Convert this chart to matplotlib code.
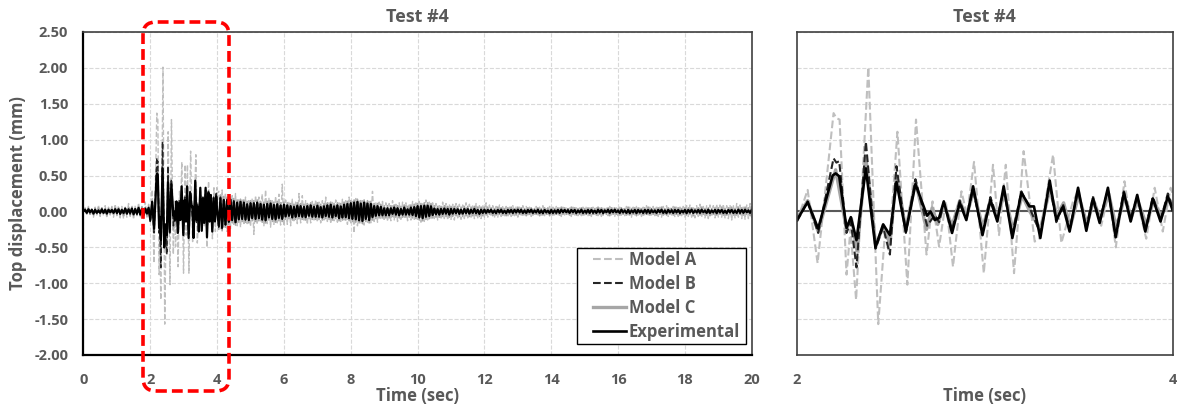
import numpy as np
import matplotlib
matplotlib.use("Agg")
import matplotlib.pyplot as plt
from matplotlib.patches import FancyBboxPatch, Rectangle
from matplotlib.ticker import FormatStrFormatter

plt.rcParams['font.family'] = ['Open Sans', 'DejaVu Sans']
plt.rcParams['axes.unicode_minus'] = False

# ---- data (mm) ----
# 2-4 s window, peaks / troughs of each trace
t_exp = [2.000, 2.057, 2.113, 2.190, 2.206, 2.225, 2.264, 2.287, 2.317, 2.367, 2.418, 2.459,
         2.495, 2.530, 2.580, 2.631, 2.693, 2.711, 2.734, 2.757, 2.782, 2.826, 2.867, 2.902,
         2.938, 2.988, 3.030, 3.067, 3.101, 3.147, 3.195, 3.239, 3.262, 3.296, 3.346, 3.381,
         3.417, 3.452, 3.497, 3.541, 3.576, 3.612, 3.656, 3.697, 3.741, 3.777, 3.812, 3.855,
         3.895, 3.936, 3.975, 4.000]
v_exp = [-0.12, 0.13, -0.24, 0.50, 0.53, 0.49, -0.23, -0.08, -0.40, 0.60, -0.50, -0.18,
         -0.33, 0.41, -0.28, 0.38, -0.06, 0.00, -0.12, -0.09, 0.14, -0.30, 0.12, -0.12,
         0.35, -0.33, 0.16, -0.14, 0.35, -0.37, 0.26, 0.07, 0.07, -0.37, 0.43, -0.12,
         0.07, -0.28, 0.33, -0.27, 0.18, -0.16, 0.33, -0.36, 0.26, -0.14, 0.23, -0.28,
         0.18, -0.14, 0.21, 0.02]

t_a = [2.000, 2.057, 2.110, 2.195, 2.210, 2.227, 2.264, 2.285, 2.315, 2.380, 2.433, 2.470,
       2.490, 2.535, 2.588, 2.634, 2.690, 2.722, 2.757, 2.793, 2.831, 2.876, 2.905, 2.943,
       2.995, 3.044, 3.076, 3.112, 3.156, 3.207, 3.266, 3.290, 3.364, 3.408, 3.470, 3.500,
       3.540, 3.580, 3.620, 3.660, 3.698, 3.744, 3.777, 3.812, 3.860, 3.905, 3.948, 3.990,
       4.000]
v_a = [-0.14, 0.30, -0.72, 1.37, 1.30, 1.28, -0.88, -0.25, -1.23, 2.01, -1.57, -0.25,
       -0.55, 1.11, -1.02, 1.28, -0.60, 0.14, -0.49, 0.14, -0.77, 0.28, -0.05, 0.69,
       -0.86, 0.65, -0.33, 0.65, -0.86, 0.84, -0.42, -0.38, 0.79, -0.44, 0.14, 0.30,
       -0.25, 0.20, -0.20, 0.25, -0.50, 0.42, -0.15, 0.15, -0.38, 0.33, -0.28, 0.33,
       0.25]

t_b = [2.000, 2.057, 2.113, 2.195, 2.210, 2.225, 2.264, 2.287, 2.317, 2.367, 2.418, 2.459,
       2.495, 2.530, 2.580, 2.631, 2.693, 2.734, 2.757, 2.782, 2.826, 2.867, 2.902, 2.938,
       2.988, 3.030, 3.067, 3.101, 3.147, 3.195, 3.239, 3.296, 3.346, 3.381, 3.417, 3.452,
       3.497, 3.541, 3.576, 3.612, 3.656, 3.697, 3.741, 3.777, 3.812, 3.855, 3.895, 3.936,
       3.975, 4.000]
v_b = [-0.14, 0.14, -0.30, 0.74, 0.68, 0.70, -0.30, -0.15, -0.78, 0.97, -0.52, -0.22,
       -0.60, 0.63, -0.30, 0.45, -0.20, -0.05, -0.15, 0.12, -0.25, 0.15, -0.10, 0.30,
       -0.30, 0.20, -0.10, 0.30, -0.32, 0.28, 0.05, -0.30, 0.38, -0.15, 0.10, -0.25,
       0.28, -0.22, 0.20, -0.12, 0.30, -0.33, 0.28, -0.10, 0.20, -0.25, 0.20, -0.12,
       0.25, 0.05]

t_c = [2.000, 2.057, 2.113, 2.206, 2.264, 2.290, 2.320, 2.367, 2.420, 2.460, 2.495, 2.530,
       2.580, 2.631, 2.690, 2.720, 2.750, 2.782, 2.826, 2.867, 2.902, 2.940, 2.990, 3.030,
       3.067, 3.105, 3.150, 3.200, 3.240, 3.296, 3.346, 3.385, 3.420, 3.455, 3.500, 3.545,
       3.580, 3.615, 3.660, 3.700, 3.745, 3.780, 3.815, 3.860, 3.900, 3.940, 3.980, 4.000]
v_c = [-0.10, 0.15, -0.28, 0.58, -0.25, -0.10, -0.55, 0.75, -0.48, -0.20, -0.45, 0.50,
       -0.25, 0.42, -0.25, 0.05, -0.18, 0.10, -0.20, 0.15, -0.08, 0.28, -0.22, 0.15,
       -0.08, 0.25, -0.25, 0.22, 0.00, -0.25, 0.30, -0.05, 0.12, -0.22, 0.22, -0.18,
       0.15, -0.10, 0.25, -0.22, 0.20, -0.08, 0.15, -0.18, 0.15, -0.08, 0.18, 0.10]

# rest of the record, one value every 0.05 s (0.00-1.95 s and 4.05-20.00 s), one row per second
pre_exp = [
    0.00, 0.02, -0.02, 0.03, -0.01, 0.02, -0.03, 0.02, -0.02, 0.01, -0.02, 0.03, -0.02, 0.02, -0.03, 0.02, -0.01, 0.02, -0.02, 0.03,
    -0.02, 0.03, -0.03, 0.02, -0.02, 0.04, -0.03, 0.03, -0.02, 0.04, -0.04, 0.03, -0.03, 0.05, -0.04, 0.03, -0.05, 0.04, -0.03, 0.05]
pre_a = [
    0.00, 0.05, -0.04, 0.07, -0.06, 0.04, -0.08, 0.06, -0.05, 0.09, -0.07, 0.05, -0.06, 0.08, -0.09, 0.06, -0.05, 0.07, -0.08, 0.10,
    -0.06, 0.08, -0.09, 0.07, -0.10, 0.06, -0.08, 0.11, -0.07, 0.09, -0.11, 0.08, -0.06, 0.12, -0.09, 0.07, -0.10, 0.13, -0.08, 0.10]
pre_b = [
    0.00, 0.03, -0.02, 0.02, -0.03, 0.03, -0.02, 0.03, -0.03, 0.02, -0.03, 0.02, -0.03, 0.03, -0.02, 0.03, -0.03, 0.02, -0.03, 0.03,
    -0.03, 0.02, -0.04, 0.03, -0.03, 0.04, -0.03, 0.02, -0.04, 0.03, -0.03, 0.04, -0.04, 0.03, -0.05, 0.04, -0.03, 0.05, -0.04, 0.04]
pre_c = [
    0.00, 0.04, -0.03, 0.05, -0.04, 0.03, -0.05, 0.04, -0.03, 0.05, -0.04, 0.05, -0.03, 0.04, -0.05, 0.04, -0.03, 0.05, -0.04, 0.05,
    -0.04, 0.05, -0.05, 0.04, -0.06, 0.05, -0.04, 0.06, -0.05, 0.05, -0.06, 0.04, -0.05, 0.07, -0.05, 0.06, -0.07, 0.05, -0.06, 0.07]

post_exp = [
    -0.20, 0.18, -0.22, 0.16, -0.18, 0.15, -0.14, 0.16, -0.12, 0.13, -0.15, 0.12, -0.11, 0.13, -0.10, 0.12, -0.11, 0.10, -0.12, 0.11,
    -0.09, 0.11, -0.10, 0.12, -0.09, 0.10, -0.11, 0.09, -0.12, 0.10, -0.08, 0.11, -0.10, 0.09, -0.11, 0.10, -0.09, 0.08, -0.10, 0.09,
    -0.07, 0.08, -0.06, 0.07, -0.08, 0.06, -0.07, 0.08, -0.06, 0.07, -0.07, 0.06, -0.08, 0.07, -0.06, 0.08, -0.07, 0.06, -0.07, 0.08,
    -0.07, 0.06, -0.08, 0.07, -0.06, 0.08, -0.07, 0.09, -0.08, 0.07, -0.06, 0.08, -0.09, 0.07, -0.08, 0.09, -0.08, 0.10, -0.09, 0.11,
    -0.10, 0.12, -0.11, 0.13, -0.12, 0.11, -0.13, 0.12, -0.10, 0.11, -0.12, 0.10, -0.08, 0.07, -0.06, 0.07, -0.05, 0.06, -0.05, 0.04,
    -0.05, 0.04, -0.05, 0.04, -0.03, 0.05, -0.04, 0.04, -0.05, 0.03, -0.04, 0.05, -0.04, 0.03, -0.04, 0.05, -0.05, 0.06, -0.06, 0.07,
    -0.08, 0.07, -0.09, 0.08, -0.07, 0.08, -0.06, 0.07, -0.05, 0.04, -0.04, 0.03, -0.04, 0.03, -0.03, 0.04, -0.03, 0.03, -0.04, 0.03,
    -0.03, 0.03, -0.02, 0.03, -0.03, 0.02, -0.03, 0.03, -0.02, 0.03, -0.03, 0.02, -0.02, 0.03, -0.02, 0.02, -0.03, 0.02, -0.02, 0.02,
    -0.02, 0.02, -0.01, 0.02, -0.02, 0.01, -0.02, 0.02, -0.01, 0.02, -0.02, 0.01, -0.02, 0.02, -0.01, 0.02, -0.02, 0.02, -0.01, 0.02,
    -0.01, 0.02, -0.02, 0.01, -0.02, 0.02, -0.01, 0.02, -0.02, 0.01, -0.01, 0.02, -0.02, 0.01, -0.02, 0.02, -0.01, 0.01, -0.02, 0.02,
    -0.02, 0.01, -0.01, 0.02, -0.02, 0.02, -0.01, 0.02, -0.01, 0.01, -0.02, 0.02, -0.01, 0.02, -0.02, 0.01, -0.01, 0.02, -0.02, 0.01,
    -0.01, 0.02, -0.02, 0.02, -0.01, 0.01, -0.02, 0.02, -0.01, 0.02, -0.02, 0.01, -0.01, 0.02, -0.02, 0.02, -0.01, 0.02, -0.01, 0.01,
    -0.02, 0.02, -0.01, 0.01, -0.02, 0.02, -0.02, 0.01, -0.01, 0.02, -0.02, 0.02, -0.01, 0.01, -0.02, 0.02, -0.01, 0.02, -0.02, 0.01,
    -0.01, 0.01, -0.02, 0.02, -0.01, 0.02, -0.02, 0.01, -0.02, 0.02, -0.01, 0.01, -0.02, 0.02, -0.01, 0.02, -0.02, 0.01, -0.01, 0.02,
    -0.02, 0.02, -0.01, 0.02, -0.02, 0.01, -0.01, 0.02, -0.02, 0.02, -0.01, 0.01, -0.02, 0.02, -0.02, 0.01, -0.01, 0.02, -0.02, 0.02,
    -0.01, 0.02, -0.02, 0.01, -0.02, 0.02, -0.01, 0.02, -0.02, 0.01, -0.02, 0.02, -0.01, 0.02, -0.02, 0.02, -0.01, 0.01, -0.02, 0.02]
post_a = [
    0.28, -0.25, 0.30, -0.22, 0.26, -0.28, 0.20, -0.24, 0.22, -0.18, 0.25, -0.20, 0.18, -0.22, 0.16, -0.19, 0.20, -0.17, 0.15, -0.21,
    0.18, -0.32, 0.22, -0.18, 0.20, -0.15, 0.24, -0.20, 0.30, -0.17, 0.19, -0.22, 0.16, -0.18, 0.21, -0.16, 0.24, -0.19, 0.38, -0.20,
    0.16, -0.18, 0.14, -0.20, 0.17, -0.15, 0.13, -0.17, 0.25, -0.16, 0.22, -0.14, 0.15, -0.18, 0.12, -0.16, 0.14, -0.12, 0.16, -0.15,
    0.13, -0.16, 0.15, -0.12, 0.20, -0.14, 0.12, -0.17, 0.14, -0.13, 0.16, -0.15, 0.12, -0.14, 0.17, -0.12, 0.15, -0.18, 0.20, -0.16,
    0.14, -0.30, 0.18, -0.20, 0.16, -0.17, 0.15, -0.19, 0.13, -0.15, 0.14, -0.16, 0.28, -0.14, 0.12, -0.15, 0.13, -0.11, 0.14, -0.13,
    0.12, -0.14, 0.11, -0.13, 0.15, -0.12, 0.10, -0.14, 0.12, -0.11, 0.13, -0.10, 0.12, -0.13, 0.11, -0.12, 0.14, -0.11, 0.12, -0.13,
    0.14, -0.15, 0.12, -0.14, 0.16, -0.12, 0.13, -0.11, 0.12, -0.10, 0.11, -0.12, 0.10, -0.11, 0.13, -0.10, 0.11, -0.12, 0.10, -0.11,
    0.10, -0.12, 0.11, -0.09, 0.10, -0.11, 0.09, -0.10, 0.12, -0.09, 0.10, -0.08, 0.09, -0.10, 0.11, -0.09, 0.08, -0.10, 0.09, -0.08,
    0.12, -0.08, 0.09, -0.07, 0.08, -0.09, 0.07, -0.08, 0.09, -0.07, 0.08, -0.06, 0.07, -0.08, 0.06, -0.07, 0.08, -0.06, 0.07, -0.08,
    0.06, -0.07, 0.08, -0.06, 0.07, -0.05, 0.06, -0.07, 0.05, -0.06, 0.07, -0.05, 0.06, -0.07, 0.08, -0.06, 0.05, -0.06, 0.07, -0.05,
    0.06, -0.05, 0.07, -0.06, 0.05, -0.07, 0.06, -0.05, 0.06, -0.06, 0.05, -0.07, 0.06, -0.05, 0.07, -0.06, 0.05, -0.06, 0.06, -0.05,
    0.07, -0.06, 0.05, -0.07, 0.06, -0.05, 0.07, -0.06, 0.05, -0.07, 0.06, -0.05, 0.06, -0.06, 0.07, -0.05, 0.06, -0.07, 0.05, -0.06,
    0.06, -0.07, 0.05, -0.06, 0.07, -0.05, 0.06, -0.08, 0.06, -0.05, 0.07, -0.06, 0.05, -0.07, 0.06, -0.06, 0.08, -0.05, 0.06, -0.07,
    0.07, -0.06, 0.08, -0.07, 0.06, -0.08, 0.07, -0.06, 0.08, -0.07, 0.06, -0.05, 0.07, -0.08, 0.06, -0.07, 0.08, -0.06, 0.07, -0.08,
    0.08, -0.07, 0.09, -0.08, 0.07, -0.09, 0.08, -0.07, 0.10, -0.08, 0.07, -0.09, 0.08, -0.10, 0.09, -0.07, 0.08, -0.09, 0.10, -0.08,
    0.09, -0.08, 0.10, -0.09, 0.08, -0.10, 0.09, -0.12, 0.08, -0.09, 0.11, -0.08, 0.09, -0.10, 0.08, -0.11, 0.09, -0.10, 0.11, -0.09]
post_b = [
    -0.22, 0.20, -0.24, 0.18, -0.19, 0.17, -0.15, 0.17, -0.13, 0.15, -0.16, 0.13, -0.12, 0.14, -0.11, 0.13, -0.12, 0.11, -0.13, 0.12,
    -0.10, 0.12, -0.11, 0.13, -0.10, 0.11, -0.12, 0.10, -0.13, 0.11, -0.09, 0.12, -0.11, 0.10, -0.12, 0.11, -0.10, 0.09, -0.11, 0.10,
    -0.08, 0.09, -0.07, 0.08, -0.09, 0.07, -0.08, 0.09, -0.07, 0.08, -0.08, 0.07, -0.09, 0.08, -0.07, 0.09, -0.08, 0.07, -0.08, 0.09,
    -0.08, 0.07, -0.09, 0.08, -0.07, 0.09, -0.08, 0.10, -0.09, 0.08, -0.07, 0.09, -0.10, 0.08, -0.09, 0.10, -0.09, 0.11, -0.10, 0.12,
    -0.11, 0.13, -0.12, 0.14, -0.13, 0.12, -0.14, 0.13, -0.11, 0.12, -0.13, 0.11, -0.09, 0.08, -0.07, 0.08, -0.06, 0.07, -0.06, 0.05,
    -0.06, 0.05, -0.06, 0.05, -0.04, 0.06, -0.05, 0.05, -0.06, 0.04, -0.05, 0.06, -0.05, 0.04, -0.05, 0.06, -0.06, 0.07, -0.07, 0.08,
    -0.09, 0.08, -0.10, 0.09, -0.08, 0.09, -0.07, 0.08, -0.06, 0.05, -0.05, 0.04, -0.05, 0.04, -0.04, 0.05, -0.04, 0.04, -0.05, 0.04,
    -0.04, 0.04, -0.03, 0.04, -0.04, 0.03, -0.04, 0.04, -0.03, 0.04, -0.04, 0.03, -0.03, 0.04, -0.03, 0.03, -0.04, 0.03, -0.03, 0.03,
    -0.03, 0.02, -0.02, 0.03, -0.02, 0.02, -0.03, 0.02, -0.02, 0.03, -0.02, 0.02, -0.03, 0.02, -0.02, 0.03, -0.02, 0.02, -0.02, 0.03,
    -0.02, 0.03, -0.02, 0.02, -0.03, 0.02, -0.02, 0.03, -0.02, 0.02, -0.02, 0.03, -0.02, 0.02, -0.03, 0.02, -0.02, 0.02, -0.03, 0.02,
    -0.02, 0.02, -0.03, 0.02, -0.02, 0.03, -0.02, 0.02, -0.02, 0.03, -0.03, 0.02, -0.02, 0.02, -0.03, 0.02, -0.02, 0.03, -0.02, 0.02,
    -0.03, 0.02, -0.02, 0.02, -0.03, 0.02, -0.02, 0.03, -0.02, 0.02, -0.03, 0.02, -0.02, 0.03, -0.02, 0.02, -0.02, 0.03, -0.03, 0.02,
    -0.02, 0.03, -0.02, 0.02, -0.02, 0.03, -0.03, 0.02, -0.02, 0.02, -0.03, 0.02, -0.02, 0.03, -0.02, 0.02, -0.03, 0.02, -0.02, 0.03,
    -0.02, 0.02, -0.03, 0.02, -0.02, 0.03, -0.02, 0.02, -0.03, 0.02, -0.02, 0.03, -0.02, 0.02, -0.02, 0.03, -0.03, 0.02, -0.02, 0.02,
    -0.03, 0.02, -0.02, 0.03, -0.02, 0.02, -0.03, 0.02, -0.02, 0.03, -0.02, 0.02, -0.02, 0.03, -0.03, 0.02, -0.02, 0.02, -0.03, 0.02,
    -0.02, 0.03, -0.02, 0.02, -0.03, 0.02, -0.02, 0.03, -0.02, 0.02, -0.02, 0.03, -0.03, 0.02, -0.02, 0.03, -0.02, 0.02, -0.03, 0.03]
post_c = [
    -0.25, 0.23, -0.27, 0.21, -0.22, 0.20, -0.18, 0.20, -0.16, 0.18, -0.19, 0.16, -0.15, 0.17, -0.14, 0.16, -0.15, 0.14, -0.16, 0.15,
    -0.13, 0.15, -0.14, 0.16, -0.13, 0.14, -0.15, 0.13, -0.16, 0.14, -0.12, 0.15, -0.14, 0.13, -0.15, 0.14, -0.13, 0.12, -0.14, 0.13,
    -0.11, 0.12, -0.10, 0.11, -0.12, 0.10, -0.11, 0.12, -0.10, 0.11, -0.11, 0.10, -0.12, 0.11, -0.10, 0.12, -0.11, 0.10, -0.11, 0.12,
    -0.11, 0.10, -0.12, 0.11, -0.10, 0.12, -0.11, 0.13, -0.12, 0.11, -0.10, 0.12, -0.13, 0.11, -0.12, 0.13, -0.12, 0.14, -0.13, 0.15,
    -0.14, 0.16, -0.15, 0.17, -0.16, 0.15, -0.17, 0.16, -0.14, 0.15, -0.16, 0.14, -0.12, 0.11, -0.10, 0.11, -0.09, 0.10, -0.09, 0.08,
    -0.09, 0.08, -0.09, 0.08, -0.07, 0.09, -0.08, 0.08, -0.09, 0.07, -0.08, 0.09, -0.08, 0.07, -0.08, 0.09, -0.09, 0.10, -0.10, 0.11,
    -0.12, 0.11, -0.13, 0.12, -0.11, 0.12, -0.10, 0.11, -0.09, 0.08, -0.08, 0.07, -0.08, 0.07, -0.07, 0.08, -0.07, 0.07, -0.08, 0.07,
    -0.07, 0.07, -0.06, 0.07, -0.07, 0.06, -0.07, 0.07, -0.06, 0.07, -0.07, 0.06, -0.06, 0.07, -0.06, 0.06, -0.07, 0.06, -0.06, 0.06,
    -0.05, 0.06, -0.04, 0.05, -0.06, 0.04, -0.05, 0.06, -0.04, 0.05, -0.05, 0.04, -0.06, 0.05, -0.04, 0.06, -0.05, 0.04, -0.05, 0.06,
    -0.04, 0.05, -0.05, 0.04, -0.06, 0.05, -0.04, 0.05, -0.05, 0.04, -0.04, 0.05, -0.06, 0.04, -0.05, 0.05, -0.04, 0.05, -0.06, 0.04,
    -0.05, 0.04, -0.04, 0.05, -0.05, 0.06, -0.04, 0.05, -0.04, 0.04, -0.05, 0.06, -0.04, 0.05, -0.05, 0.04, -0.04, 0.05, -0.05, 0.04,
    -0.04, 0.05, -0.05, 0.05, -0.04, 0.04, -0.05, 0.06, -0.04, 0.05, -0.05, 0.04, -0.04, 0.05, -0.06, 0.05, -0.04, 0.05, -0.04, 0.04,
    -0.05, 0.05, -0.04, 0.04, -0.05, 0.06, -0.05, 0.04, -0.04, 0.05, -0.06, 0.05, -0.04, 0.04, -0.05, 0.05, -0.04, 0.06, -0.05, 0.04,
    -0.04, 0.04, -0.05, 0.05, -0.04, 0.06, -0.05, 0.04, -0.05, 0.05, -0.04, 0.04, -0.05, 0.06, -0.04, 0.05, -0.05, 0.04, -0.04, 0.05,
    -0.05, 0.05, -0.04, 0.05, -0.06, 0.04, -0.04, 0.05, -0.05, 0.06, -0.04, 0.04, -0.05, 0.05, -0.06, 0.04, -0.04, 0.05, -0.05, 0.05,
    -0.04, 0.06, -0.05, 0.04, -0.05, 0.05, -0.04, 0.06, -0.05, 0.04, -0.05, 0.06, -0.04, 0.05, -0.05, 0.06, -0.04, 0.05, -0.06, 0.06]

t_pre = np.round(np.arange(len(pre_exp)) * 0.05, 2)
t_post = np.round(4.05 + np.arange(len(post_exp)) * 0.05, 2)

series = [
    # label, window t, window v, pre, post, color, style, lw(left), lw(right)
    ("Model A", t_a, v_a, pre_a, post_a, "#BFBFBF", "--", 1.0, 1.5),
    ("Model C", t_c, v_c, pre_c, post_c, "#A6A6A6", "-", 1.2, 2.4),
    ("Model B", t_b, v_b, pre_b, post_b, "#262626", "--", 1.1, 1.5),
    ("Experimental", t_exp, v_exp, pre_exp, post_exp, "#000000", "-", 1.6, 1.9),
]

gray = "#595959"
fig = plt.figure(figsize=(11.77, 4.05), dpi=100)
ax1 = fig.add_axes([0.0709, 0.1235, 0.5678, 0.7975])
ax2 = fig.add_axes([0.6771, 0.1235, 0.3191, 0.7975])

handles = {}
for name, tw, vw, pre, post, col, ls, lw1, lw2 in series:
    t_all = np.concatenate([t_pre, tw, t_post])
    v_all = np.concatenate([pre, vw, post])
    ax1.plot(t_all, v_all, color=col, ls=ls, lw=lw1)
    ax2.plot(tw, vw, color=col, ls=ls, lw=lw2, solid_joinstyle="round", dash_joinstyle="round")
    handles[name] = ax1.plot([], [], color=col, ls=ls, lw=lw2)[0]

ax2.axhline(0, color=gray, lw=1.5, zorder=1)

for ax in (ax1, ax2):
    ax.set_ylim(-2.0, 2.5)
    ax.set_yticks(np.arange(-2.0, 2.51, 0.5))
    ax.tick_params(length=0, labelsize=10.5, labelcolor=gray)
    ax.tick_params(axis="x", pad=13)
    ax.tick_params(axis="y", pad=11)
    ax.set_title("Test #4", fontsize=13, fontweight="bold", color=gray, pad=7)
    ax.set_xlabel("Time (sec)", fontsize=12, fontweight="bold", color=gray, labelpad=0)
    ax.set_axisbelow(True)

ax1.set_xlim(0, 20)
ax1.set_xticks(range(0, 21, 2))
ax1.yaxis.set_major_formatter(FormatStrFormatter("%.2f"))
ax1.grid(True, color="#D9D9D9", ls="--", lw=0.8)
ax1.set_ylabel("Top displacement (mm)", fontsize=12, fontweight="bold", color=gray, labelpad=5)
for s in ("left", "bottom"):
    ax1.spines[s].set_linewidth(1.6)
    ax1.spines[s].set_color("#000000")
for s in ("top", "right"):
    ax1.spines[s].set_linewidth(1.2)
    ax1.spines[s].set_color("#404040")
for lab in ax1.get_xticklabels() + ax1.get_yticklabels():
    lab.set_fontweight("bold")

ax2.set_xlim(2, 4)
ax2.set_xticks([2, 4])
ax2.set_yticklabels([])
ax2.grid(True, axis="y", color="#D9D9D9", ls="--", lw=0.8)
for s in ax2.spines.values():
    s.set_linewidth(1.2)
    s.set_color("#404040")
for lab in ax2.get_xticklabels():
    lab.set_fontweight("bold")

# legend: frame drawn separately so its padding matches the original
ax1.add_patch(Rectangle((0.739, 0.034), 0.253, 0.297, transform=ax1.transAxes,
                        facecolor="white", edgecolor="#000000", lw=1.0, zorder=5))
order = ["Model A", "Model B", "Model C", "Experimental"]
leg = ax1.legend([handles[n] for n in order], order, loc="upper left",
                 bbox_to_anchor=(0.762, 0.322), borderaxespad=0, borderpad=0,
                 frameon=False, handlelength=2.0, handletextpad=0.15,
                 labelspacing=0.36, prop={"size": 12, "weight": "bold"})
leg.set_zorder(6)
for txt in leg.get_texts():
    txt.set_color(gray)

# red dashed box around the 2-4 s window
box = FancyBboxPatch((1.43, 0.14), 0.86, 3.69, boxstyle="round,pad=0,rounding_size=0.13",
                     transform=fig.dpi_scale_trans, fill=False, edgecolor="#FF0000",
                     lw=2.6, ls=(0, (3, 1.4)), clip_on=False, zorder=10)
fig.patches.append(box)

fig.savefig("out.png", dpi=100)
